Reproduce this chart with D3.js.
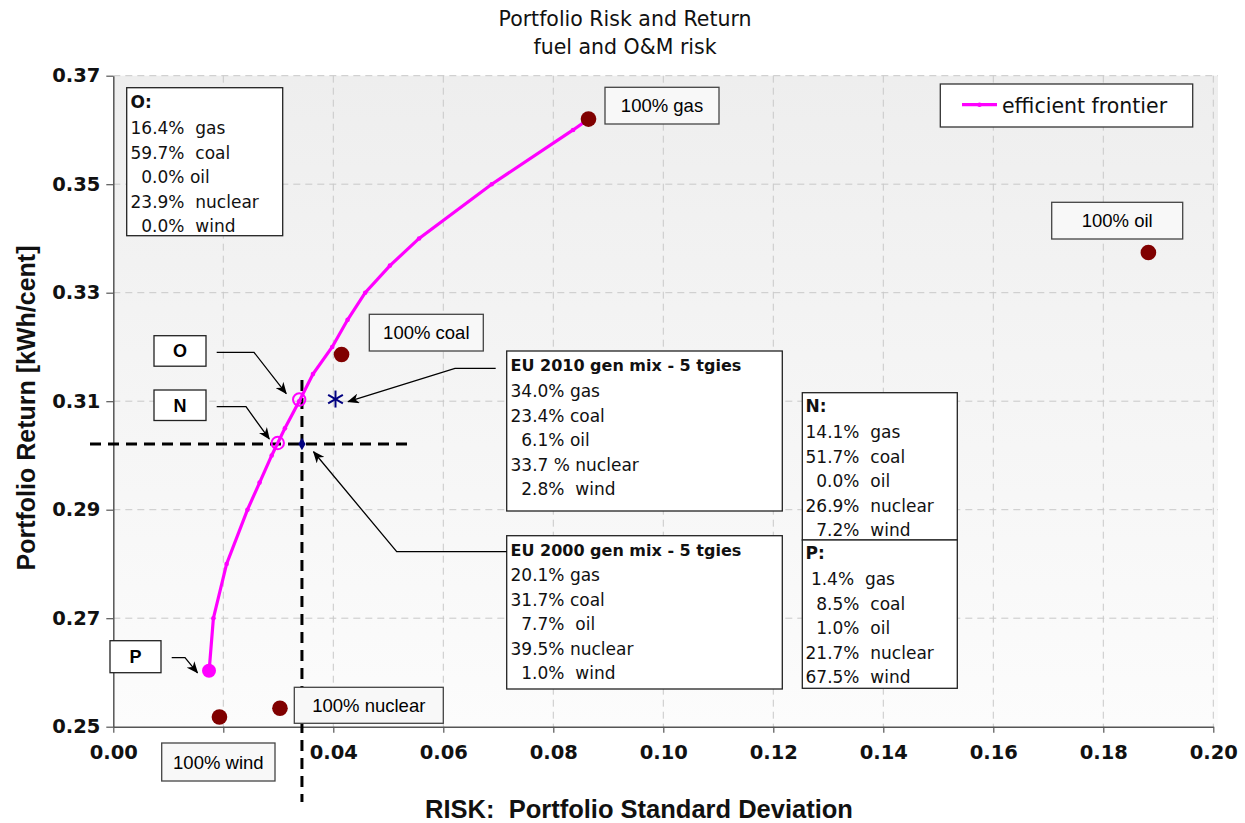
<!DOCTYPE html>
<html><head><meta charset="utf-8">
<script src="https://cdn.jsdelivr.net/npm/d3@7"></script>
<style>body{margin:0;background:#fff}</style>
</head><body>
<svg id="chart" width="1245" height="823"></svg>
<script>
// ---------- data ----------
const frontierRisk   = [0.0174, 0.0182, 0.0206, 0.0244, 0.0266, 0.0288, 0.0312, 0.0338, 0.0363, 0.0398, 0.0426, 0.0458, 0.0503, 0.0556, 0.0688, 0.0836, 0.0864];
const frontierReturn = [0.260, 0.270, 0.280, 0.290, 0.295, 0.300, 0.305, 0.310, 0.315, 0.320, 0.325, 0.330, 0.335, 0.340, 0.350, 0.360, 0.362];

const pureLabels = ["100% gas", "100% oil", "100% coal", "100% nuclear", "100% wind"];
const pureRisk   = [0.0864, 0.1882, 0.0415, 0.0303, 0.0193];
const pureReturn = [0.362, 0.3374, 0.3186, 0.2534, 0.2518];

const optLabels = ["O", "N", "P"];
const optRisk   = [0.0338, 0.0299, 0.0174];
const optReturn = [0.3103, 0.3023, 0.2603];

const euLabels = ["EU 2010 gen mix - 5 tgies", "EU 2000 gen mix - 5 tgies"];
const euRisk   = [0.0404, 0.0343];
const euReturn = [0.3104, 0.3021];

const mixO    = ["16.4%  gas", "59.7%  coal", "  0.0% oil", "23.9%  nuclear", "  0.0%  wind"];
const mixN    = ["14.1%  gas", "51.7%  coal", "  0.0%  oil", "26.9%  nuclear", "  7.2%  wind"];
const mixP    = [" 1.4%  gas", "  8.5%  coal", "  1.0%  oil", "21.7%  nuclear", "67.5%  wind"];
const mix2010 = ["34.0% gas", "23.4% coal", "  6.1% oil", "33.7 % nuclear", "  2.8%  wind"];
const mix2000 = ["20.1% gas", "31.7% coal", "  7.7%  oil", "39.5% nuclear", "  1.0%  wind"];

const xTicks = [0.00, 0.02, 0.04, 0.06, 0.08, 0.10, 0.12, 0.14, 0.16, 0.18, 0.20];
const yTicks = [0.25, 0.27, 0.29, 0.31, 0.33, 0.35, 0.37];

const titleLines = ["Portfolio Risk and Return", "fuel and O&M risk"];
const xTitle = "RISK:  Portfolio Standard Deviation";
const yTitle = "Portfolio Return [kWh/cent]";
const legendLabel = "efficient frontier";

// ---------- setup ----------
const svg = d3.select("#chart");
const L = 113.3, R = 1213.3, T = 75.7, B = 726.7;
const x = d3.scaleLinear().domain([0, 0.20]).range([L, R]);
const y = d3.scaleLinear().domain([0.25, 0.37]).range([B, T]);

const MAG = "#ff00ff", DRED = "#800000", NAVY = "#000080";
const GOTHIC = "'DejaVu Sans', sans-serif";
const ARIAL = "'Liberation Sans', Arial, sans-serif";

const defs = svg.append("defs");
const grad = defs.append("linearGradient").attr("id", "bg").attr("x1", 0).attr("y1", 0).attr("x2", 0).attr("y2", 1);
grad.append("stop").attr("offset", "0%").attr("stop-color", "#eeeeee");
grad.append("stop").attr("offset", "100%").attr("stop-color", "#fcfcfc");
defs.append("marker").attr("id", "arr").attr("viewBox", "0 0 12 10").attr("refX", 11).attr("refY", 5)
  .attr("markerWidth", 12).attr("markerHeight", 10).attr("markerUnits", "userSpaceOnUse").attr("orient", "auto")
  .append("path").attr("d", "M0,0 L12,5 L0,10 L3.5,5 Z").attr("fill", "#000");

// plot background
svg.append("rect").attr("x", L).attr("y", T).attr("width", 1218 - L).attr("height", B - T).attr("fill", "url(#bg)");

// grid
const grid = svg.append("g").attr("stroke", "#c8c8c8").attr("stroke-width", 1).attr("stroke-dasharray", "7,5");
grid.selectAll("line.v").data(xTicks.slice(1)).join("line").attr("class", "v")
  .attr("x1", d => x(d)).attr("x2", d => x(d)).attr("y1", T).attr("y2", B);
grid.selectAll("line.h").data(yTicks.slice(1)).join("line").attr("class", "h")
  .attr("x1", L).attr("x2", 1218).attr("y1", d => y(d)).attr("y2", d => y(d));

// axes
const xAxis = d3.axisBottom(x).tickValues(xTicks).tickFormat(d3.format(".2f")).tickSizeInner(6).tickSizeOuter(0).tickPadding(12);
const yAxis = d3.axisLeft(y).tickValues(yTicks).tickFormat(d3.format(".2f")).tickSizeInner(7).tickSizeOuter(0).tickPadding(6);
const gx = svg.append("g").attr("transform", `translate(0,${B})`).call(xAxis);
const gy = svg.append("g").attr("transform", `translate(${L},0)`).call(yAxis);
[gx, gy].forEach(g => {
  g.select(".domain").attr("stroke", "#555").attr("stroke-width", 1.5);
  g.selectAll(".tick line").attr("stroke", "#555").attr("stroke-width", 1.2);
  g.selectAll(".tick text").attr("font-family", GOTHIC).attr("font-weight", "bold").attr("font-size", 19.5).attr("fill", "#111");
});

// titles
svg.selectAll("text.title").data(titleLines).join("text").attr("class", "title")
  .attr("x", 625).attr("y", (d, i) => 26 + i * 28).attr("text-anchor", "middle")
  .attr("font-family", GOTHIC).attr("font-size", 20.5).attr("fill", "#111").text(d => d);
svg.append("text").attr("x", 639).attr("y", 818).attr("text-anchor", "middle").style("white-space", "pre")
  .attr("font-family", ARIAL).attr("font-weight", "bold").attr("font-size", 25.5).attr("fill", "#111").text(xTitle);
svg.append("text").attr("transform", "translate(35,408) rotate(-90)").attr("text-anchor", "middle")
  .attr("font-family", ARIAL).attr("font-weight", "bold").attr("font-size", 25).attr("fill", "#111").text(yTitle);

// crosshair through EU 2000 mix
const cx0 = x(euRisk[1]), cy0 = y(euReturn[1]);
svg.append("line").attr("x1", 90).attr("x2", 407).attr("y1", cy0).attr("y2", cy0)
  .attr("stroke", "#000").attr("stroke-width", 3).attr("stroke-dasharray", "11,7");
svg.append("line").attr("x1", cx0).attr("x2", cx0).attr("y1", 380).attr("y2", 802)
  .attr("stroke", "#000").attr("stroke-width", 3).attr("stroke-dasharray", "11,7");

// efficient frontier
const fr = frontierRisk.map((r, i) => [r, frontierReturn[i]]);
svg.append("path").datum(fr).attr("fill", "none").attr("stroke", MAG).attr("stroke-width", 3.2)
  .attr("d", d3.line().x(d => x(d[0])).y(d => y(d[1])));
svg.selectAll("circle.fm").data(fr.slice(1, -1)).join("circle").attr("class", "fm")
  .attr("cx", d => x(d[0])).attr("cy", d => y(d[1])).attr("r", 2.3).attr("fill", MAG);

// pure technologies
svg.selectAll("circle.pure").data(pureRisk).join("circle").attr("class", "pure")
  .attr("cx", d => x(d)).attr("cy", (d, i) => y(pureReturn[i])).attr("r", 7.8).attr("fill", DRED);

// optimal points O, N (open) and P (filled)
svg.selectAll("circle.opt").data(optRisk).join("circle").attr("class", "opt")
  .attr("cx", d => x(d)).attr("cy", (d, i) => y(optReturn[i]))
  .attr("r", (d, i) => i === 2 ? 7 : 6.2)
  .attr("fill", (d, i) => i === 2 ? MAG : "none")
  .attr("stroke", MAG).attr("stroke-width", (d, i) => i === 2 ? 0 : 2);

// EU 2010 asterisk
const ax = x(euRisk[0]), ay = y(euReturn[0]);
const star = svg.append("g").attr("transform", `translate(${ax},${ay})`).attr("stroke", NAVY).attr("stroke-width", 2);
[90, 30, -30].forEach(a => {
  const r = 8.5, rad = a * Math.PI / 180;
  star.append("line").attr("x1", -r * Math.cos(rad)).attr("y1", -r * Math.sin(rad))
    .attr("x2", r * Math.cos(rad)).attr("y2", r * Math.sin(rad));
});
// EU 2000 diamond
svg.append("path").attr("transform", `translate(${cx0},${cy0})`)
  .attr("d", d3.symbol().type(d3.symbolDiamond).size(45)).attr("fill", NAVY);

// ---------- text boxes ----------
function labelBox(x0, y0, w, h, txt, opts = {}) {
  svg.append("rect").attr("x", x0).attr("y", y0).attr("width", w).attr("height", h)
    .attr("fill", opts.fill || "#f8f8f8").attr("stroke", opts.stroke || "#444").attr("stroke-width", opts.sw || 1.3);
  svg.append("text").attr("x", x0 + w / 2).attr("y", y0 + h / 2).attr("dy", "0.36em").attr("text-anchor", "middle")
    .attr("font-family", opts.font || ARIAL).attr("font-weight", opts.weight || "normal")
    .attr("font-size", opts.size || 18.5).attr("fill", "#000").text(txt);
}
function listBox(x0, y0, w, h, head, lines, tx, headY, lineY, headSize) {
  svg.append("rect").attr("x", x0).attr("y", y0).attr("width", w).attr("height", h)
    .attr("fill", "#fff").attr("stroke", "#222").attr("stroke-width", 1.3);
  svg.append("text").attr("x", tx).attr("y", headY).attr("font-family", GOTHIC).attr("font-weight", "bold")
    .attr("font-size", headSize || 17).attr("fill", "#111").text(head);
  svg.selectAll(null).data(lines).join("text").attr("x", tx).attr("y", (d, i) => lineY + i * 24.5)
    .attr("font-family", GOTHIC).attr("font-size", 17).attr("fill", "#111").style("white-space", "pre").text(d => d);
}

listBox(126.7, 87.7, 156, 148, "O:", mixO, 130.5, 108, 134);
listBox(802.3, 392.7, 155, 147.3, "N:", mixN, 805.5, 412, 438);
listBox(802.3, 540, 155, 148.3, "P:", mixP, 805.5, 559, 585);
listBox(506.7, 351, 275.6, 160, euLabels[0], mix2010, 510.5, 371, 397, 16);
listBox(506.7, 535.7, 275.6, 153.3, euLabels[1], mix2000, 510.5, 555.5, 581, 16);

// pure technology labels
const pureBoxes = [[605, 87.3, 114, 36.7], [1051.7, 202.3, 131, 36.7], [369.3, 314.3, 114, 36.7], [294.3, 687.3, 149, 36], [161.7, 743, 113.3, 38]];
pureLabels.forEach((t, i) => labelBox(...pureBoxes[i], t));

// O, N, P marker labels
const optBoxes = [[154, 335.7, 52, 30.5], [154, 390, 52, 30.5], [110, 640.7, 51, 32]];
optLabels.forEach((t, i) => labelBox(...optBoxes[i], t, { fill: "#fff", weight: "bold", size: 18, stroke: "#222" }));

// legend
svg.append("rect").attr("x", 940.3).attr("y", 84).attr("width", 252.4).attr("height", 43)
  .attr("fill", "#fff").attr("stroke", "#333").attr("stroke-width", 1.3);
svg.append("line").attr("x1", 962).attr("x2", 997).attr("y1", 104.7).attr("y2", 104.7).attr("stroke", MAG).attr("stroke-width", 3.2);
svg.append("circle").attr("cx", 979.5).attr("cy", 104.7).attr("r", 2.3).attr("fill", MAG);
svg.append("text").attr("x", 1002).attr("y", 112.5).attr("font-family", GOTHIC).attr("font-size", 20.5).attr("fill", "#111").text(legendLabel);

// ---------- arrows ----------
const arrowG = svg.append("g").attr("fill", "none").attr("stroke", "#000").attr("stroke-width", 1.3);
const oX = x(optRisk[0]), oY = y(optReturn[0]);
const nX = x(optRisk[1]), nY = y(optReturn[1]);
const pX = x(optRisk[2]), pY = y(optReturn[2]);
const arrows = [
  [[216.7, 352.3], [254, 352.3], [oX - 13, oY - 6]],
  [[216.7, 406.7], [246, 406.7], [nX - 8.5, nY - 4]],
  [[171.7, 657.7], [185, 657.7], [pX - 11.5, pY + 2]],
  [[495.7, 368.3], [455, 368.3], [ax + 12.6, ay + 2.7]],
  [[506.7, 551.7], [396.7, 551.7], [cx0 + 11.6, cy0 + 7.7]]
];
arrows.forEach(pts => arrowG.append("path").attr("d", d3.line()(pts)).attr("marker-end", "url(#arr)"));
</script>
</body></html>
